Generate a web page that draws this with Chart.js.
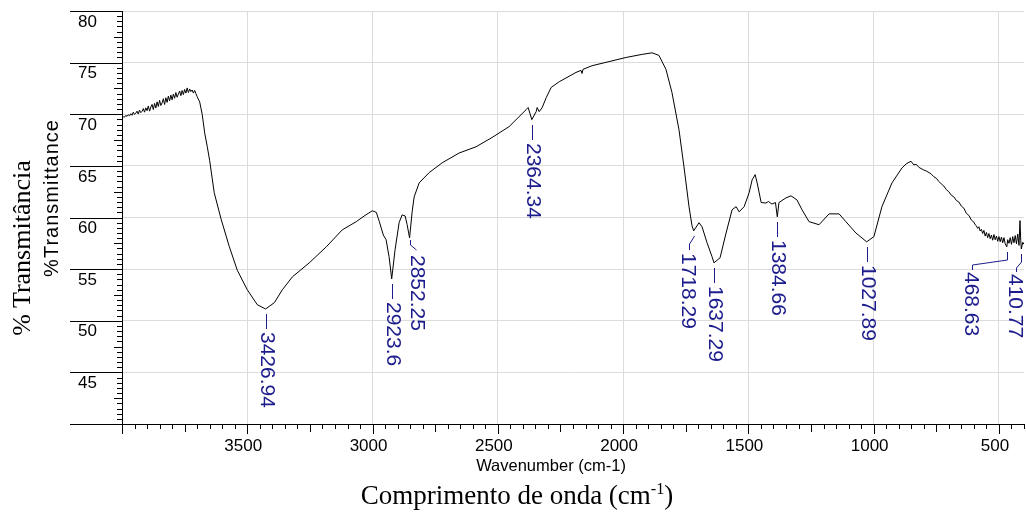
<!DOCTYPE html>
<html>
<head>
<meta charset="utf-8">
<title>FTIR spectrum</title>
<script src="https://cdn.jsdelivr.net/npm/chart.js@4.4.0/dist/chart.umd.min.js"></script>
<style>
  html, body { margin: 0; padding: 0; background: #fff; }
  #wrap { position: relative; width: 1026px; height: 512px; overflow: hidden; }
  #wrap canvas { position: absolute; left: 0; top: 0; }
  .lbl { position: absolute; white-space: nowrap; color: #000; line-height: 1; transform: translate(-50%, -50%); }
  .rot { transform: translate(-50%, -50%) rotate(-90deg); }
  .serif { font-family: 'Liberation Serif', 'Times New Roman', serif; }
  .sans { font-family: 'Liberation Sans', Arial, sans-serif; }
  sup { font-size: 0.6em; vertical-align: baseline; position: relative; top: -0.6em; }
</style>
</head>
<body>
<div id="wrap">
  <canvas id="myChart" width="1026" height="512"></canvas>
  <div class="lbl rot serif" style="left:22px; top:248px; font-size:26px;">% Transmitância</div>
  <div class="lbl rot sans" style="left:51px; top:198px; font-size:20px; letter-spacing:1px;">%Transmittance</div>
  <div class="lbl sans" style="left:551px; top:465px; font-size:16.5px;">Wavenumber (cm-1)</div>
  <div class="lbl serif" style="left:517px; top:495px; font-size:27px;">Comprimento de onda (cm<sup>-1</sup>)</div>
</div>
<script>
// spectrum (cm-1, %T)
var wavenumber = [
  4000, 3995, 3990, 3985, 3980, 3975, 3970, 3965, 3960, 3955,
  3950, 3945, 3940, 3935, 3930, 3925, 3920, 3915, 3910, 3905,
  3900, 3895, 3890, 3885, 3880, 3875, 3870, 3865, 3860, 3855,
  3850, 3845, 3840, 3835, 3830, 3825, 3820, 3815, 3810, 3805,
  3800, 3795, 3790, 3785, 3780, 3775, 3770, 3765, 3760, 3755,
  3750, 3745, 3740, 3735, 3730, 3725, 3720, 3715, 3710, 3705,
  3700, 3690, 3680, 3670, 3660, 3650, 3632, 3604, 3572, 3540,
  3500, 3460, 3426.94, 3392, 3360, 3320, 3253, 3185, 3121, 3065,
  3030, 3001, 2985, 2973, 2957, 2946, 2934, 2923.6, 2910, 2894,
  2882, 2870, 2862, 2852.25, 2842, 2834, 2814, 2774, 2722, 2654,
  2587, 2523, 2455, 2387, 2379, 2364.34, 2347, 2343, 2335, 2323,
  2307, 2287, 2255, 2188, 2168, 2164, 2160, 2124, 2056, 1988,
  1924, 1884, 1857, 1829, 1805, 1777, 1757, 1737, 1725, 1718.29,
  1697, 1685, 1665, 1645, 1637.29, 1613, 1589, 1565, 1549, 1537,
  1517, 1497, 1485, 1473, 1465, 1449, 1430, 1420, 1406, 1392,
  1384.66, 1378, 1350, 1330, 1306, 1286, 1258, 1218, 1178, 1138,
  1111, 1071, 1027.89, 999, 967, 927, 887, 870, 851, 840,
  830, 819,
  800, 790, 779, 770, 760, 750, 740, 730,
  720, 710, 700, 690, 680, 670, 660, 650, 640, 630,
  620, 610, 600, 595, 590, 585, 580, 575, 570, 565,
  560, 555, 550, 545, 540, 535, 530, 525, 520, 515,
  510, 505, 500, 495, 490, 485, 480, 475, 468.63, 465,
  460, 455, 450, 445, 440, 435, 430, 425, 420, 416,
  413, 410.77, 405, 400
];
var transmittance = [
  69.70, 69.75, 69.72, 69.88, 69.80, 69.95, 69.85, 70.05, 69.90, 70.20,
  69.98, 70.10, 70.30, 70.02, 70.40, 70.15, 70.28, 70.55, 70.20, 70.62,
  70.35, 70.80, 70.30, 70.70, 70.95, 70.45, 71.05, 70.60, 71.20, 70.75,
  71.35, 70.85, 71.10, 71.50, 70.95, 71.60, 71.15, 71.75, 71.30, 71.85,
  71.40, 71.95, 71.55, 72.10, 71.65, 71.95, 72.25, 71.80, 72.30, 71.90,
  72.40, 72.05, 72.55, 72.10, 72.45, 72.20, 72.35, 72.05, 72.30, 72.00,
  71.70, 71.20, 70.00, 68.20, 66.90, 65.50, 62.40, 59.80, 57.20, 54.90,
  53.00, 51.55, 51.14, 51.75, 53.00, 54.25, 55.60, 57.15, 58.80, 59.60,
  60.20, 60.65, 60.50, 59.60, 58.30, 57.85, 56.20, 54.06, 56.90, 59.50,
  60.25, 60.15, 59.30, 58.03, 60.55, 62.00, 63.35, 64.35, 65.30, 66.25,
  66.85, 67.75, 68.80, 70.45, 70.65, 69.48, 70.25, 70.65, 70.25, 70.65,
  71.60, 72.60, 73.15, 74.05, 74.25, 73.95, 74.35, 74.70, 75.10, 75.50,
  75.80, 75.95, 75.70, 74.35, 72.10, 68.50, 64.90, 61.05, 59.20, 58.71,
  59.50, 59.10, 57.55, 56.20, 55.61, 56.10, 58.50, 60.75, 61.05, 60.55,
  61.05, 62.40, 63.65, 64.15, 63.35, 61.45, 61.40, 61.55, 61.30, 61.45,
  60.07, 61.45, 61.90, 62.10, 61.70, 60.75, 59.60, 59.30, 60.35, 60.35,
  59.60, 58.50, 57.64, 58.15, 61.05, 63.35, 64.80, 65.20, 65.45, 65.10,
  65.15, 64.85,
  64.60, 64.50, 64.35, 64.20, 63.95, 63.80, 63.50, 63.25,
  63.05, 62.70, 62.50, 62.15, 62.00, 61.65, 61.50, 61.10, 60.90, 60.40,
  60.20, 59.75, 59.55, 59.30, 59.20, 58.95, 59.10, 58.70, 58.85, 58.45,
  58.75, 58.20, 58.55, 58.05, 58.45, 57.95, 58.30, 57.80, 58.35, 57.85,
  58.20, 57.70, 58.15, 57.65, 58.10, 57.55, 58.05, 57.45, 57.16, 57.85,
  57.50, 58.05, 57.40, 58.15, 57.55, 58.25, 57.45, 58.40, 57.30, 59.70,
  57.80, 56.95, 57.60, 57.40
];
var peakWavenumber = [3426.94, 2923.6, 2852.25, 2364.34, 1718.29, 1637.29, 1384.66, 1027.89, 468.63, 410.77];
var xTicks = [3500, 3000, 2500, 2000, 1500, 1000, 500];
var yTicks = [45, 50, 55, 60, 65, 70, 75, 80];

// leader line shapes for the peak labels (pixel offsets from the peak)
var straightLeader = { path: [[0, 5], [0, 20]], dx: 0, dy: 23 };
var leaderShapes = {
    2852.25: { path: [[0, 2], [0, 7], [6, 12]], dx: 6, dy: 17 },
    1718.29: { path: [[0, 5], [-3, 10], [-5, 13], [-5, 19]], dx: -7, dy: 22 },
    468.63: { path: [[0, 5], [0, 13], [-35, 18], [-35, 23]], dx: -37, dy: 25 },
    410.77: { path: [[0, 5], [0, 13], [-5, 19], [-5, 23]], dx: -7, dy: 25 }
};
var labelBlue = '#1c1c8c';

var axisTicks = {
    id: 'axisTicks',
    afterDraw: function(chart) {
        var ctx = chart.ctx, area = chart.chartArea;
        var x = chart.scales.x, y = chart.scales.y;
        ctx.save();
        ctx.strokeStyle = '#000';
        ctx.lineWidth = 1;
        ctx.beginPath();
        for (var v = 400; v <= 4000; v += 50) {
            var px = Math.round(x.getPixelForValue(v)) + 0.5;
            var len = v % 500 === 0 ? 10 : (v % 250 === 0 ? 8 : 5);
            ctx.moveTo(px, area.bottom);
            ctx.lineTo(px, area.bottom + len);
        }
        for (var t = 40; t <= 80; t += 0.5) {
            var py = Math.round(y.getPixelForValue(t)) + 0.5;
            var l = t % 5 === 0 ? 52 : (t % 2.5 === 0 ? 8 : 5);
            ctx.moveTo(area.left - l, py);
            ctx.lineTo(area.left, py);
        }
        ctx.stroke();
        ctx.restore();
    }
};

var peakLabels = {
    id: 'peakLabels',
    afterDatasetsDraw: function(chart) {
        var ctx = chart.ctx;
        var x = chart.scales.x, y = chart.scales.y;
        ctx.save();
        ctx.strokeStyle = labelBlue;
        ctx.fillStyle = labelBlue;
        ctx.lineWidth = 1;
        ctx.font = '21px "Liberation Sans", Arial, sans-serif';
        ctx.textBaseline = 'middle';
        ctx.textAlign = 'left';
        peakWavenumber.forEach(function(wn) {
            var i = wavenumber.indexOf(wn);
            var px = Math.round(x.getPixelForValue(wn)) + 0.5;
            var py = Math.round(y.getPixelForValue(transmittance[i]));
            var shape = leaderShapes[wn] || straightLeader;
            ctx.beginPath();
            shape.path.forEach(function(p, k) {
                if (k === 0) ctx.moveTo(px + p[0], py + p[1]);
                else ctx.lineTo(px + p[0], py + p[1]);
            });
            ctx.stroke();
            ctx.save();
            ctx.translate(px + shape.dx, py + shape.dy);
            ctx.rotate(Math.PI / 2);
            ctx.fillText(String(wn), 0, 0);
            ctx.restore();
        });
        ctx.restore();
    }
};

var tickFont = { family: "'Liberation Sans', Arial, sans-serif", size: 17 };

var ctx = document.getElementById('myChart').getContext('2d');
var myChart = new Chart(ctx, {
    type: 'line',
    data: {
        datasets: [{
            data: wavenumber.map(function(w, i) { return { x: w, y: transmittance[i] }; }),
            borderColor: '#000',
            borderWidth: 1,
            pointRadius: 0,
            tension: 0,
            fill: false
        }]
    },
    options: {
        responsive: false,
        animation: false,
        devicePixelRatio: 1,
        layout: { padding: { top: 11, right: 2, left: 0, bottom: 0 } },
        plugins: {
            legend: { display: false },
            tooltip: { enabled: false }
        },
        scales: {
            x: {
                type: 'linear',
                reverse: true,
                min: 400,
                max: 4000,
                afterBuildTicks: function(scale) {
                    scale.ticks = xTicks.map(function(v) { return { value: v }; });
                },
                afterFit: function(scale) {
                    scale.height = 88;
                    scale.paddingLeft = 0;
                    scale.paddingRight = 0;
                },
                ticks: {
                    font: tickFont,
                    color: '#000',
                    padding: 12,
                    labelOffset: -4,
                    maxRotation: 0,
                    autoSkip: false,
                    callback: function(v) { return String(v); }
                },
                grid: { color: '#dcdcdc', drawTicks: false },
                border: { color: '#000', width: 1 }
            },
            y: {
                min: 40,
                max: 80,
                afterBuildTicks: function(scale) {
                    scale.ticks = yTicks.map(function(v) { return { value: v }; });
                },
                afterFit: function(scale) {
                    scale.width = 122;
                    scale.paddingTop = 0;
                    scale.paddingBottom = 0;
                },
                ticks: {
                    font: tickFont,
                    color: '#000',
                    padding: 25,
                    labelOffset: 11,
                    autoSkip: false,
                    callback: function(v) { return String(v); }
                },
                grid: { color: '#dcdcdc', drawTicks: false },
                border: { color: '#000', width: 1 }
            }
        }
    },
    plugins: [axisTicks, peakLabels]
});
</script>
</body>
</html>
